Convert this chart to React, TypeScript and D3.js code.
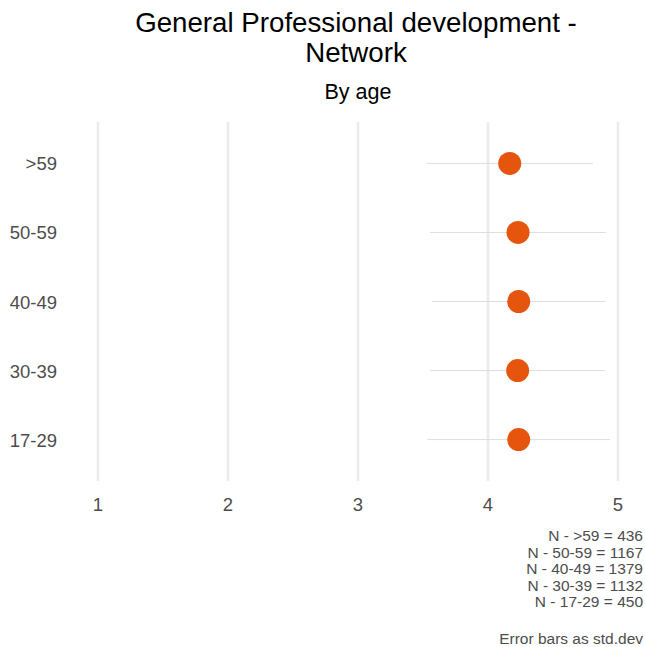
import React from "react";
import * as d3 from "d3";

const categories = [">59", "50-59", "40-49", "30-39", "17-29"];
const means = [4.167, 4.231, 4.236, 4.228, 4.236];
const sds = [0.64, 0.676, 0.669, 0.671, 0.702];
const xTicks = [1, 2, 3, 4, 5];
const nLines = [
  "N - >59 = 436",
  "N - 50-59 = 1167",
  "N - 40-49 = 1379",
  "N - 30-39 = 1132",
  "N - 17-29 = 450",
];
const titleLines = ["General Professional development -", "Network"];
const subtitle = "By age";
const footnote = "Error bars as std.dev";

const W = 645;
const H = 647;
const FONT = "'Liberation Sans', Arial, sans-serif";

export default function App() {
  const x = d3.scaleLinear().domain([1, 5]).range([98, 618]);
  const y = d3.scalePoint<string>().domain(categories).range([122, 481]).padding(0.6);
  const data = categories.map((c, i) => ({ c, m: means[i], s: sds[i] }));
  const cx = 356;
  return (
    <svg width={W} height={H} style={{ position: "absolute", left: 0, top: 0, background: "#fff" }}>
      <rect width={W} height={H} fill="#fff" />
      {titleLines.map((t, i) => (
        <text key={t} x={cx} y={31.5 + i * 30} textAnchor="middle" fontFamily={FONT} fontSize={27.7} fill="#000">
          {t}
        </text>
      ))}
      <text x={cx + 2} y={98.5} textAnchor="middle" fontFamily={FONT} fontSize={21.5} fill="#000">
        {subtitle}
      </text>
      {xTicks.map((t) => (
        <line key={t} x1={x(t)} x2={x(t)} y1={122} y2={481} stroke="#ebebeb" strokeWidth={2.5} />
      ))}
      {data.map((d) => (
        <line
          key={"e" + d.c}
          x1={x(d.m - d.s)}
          x2={x(d.m + d.s)}
          y1={y(d.c)}
          y2={y(d.c)}
          stroke="#dedede"
          strokeWidth={1}
        />
      ))}
      {data.map((d) => (
        <circle key={"p" + d.c} cx={x(d.m)} cy={y(d.c)} r={11.5} fill="#E6550D" />
      ))}
      {categories.map((c) => (
        <text key={"y" + c} x={57} y={(y(c) as number) + 7} textAnchor="end" fontFamily={FONT} fontSize={18.5} fill="#4d4d4d">
          {c}
        </text>
      ))}
      {xTicks.map((t) => (
        <text key={"x" + t} x={x(t)} y={511} textAnchor="middle" fontFamily={FONT} fontSize={18.5} fill="#4d4d4d">
          {t}
        </text>
      ))}
      {nLines.map((t, i) => (
        <text key={t} x={643} y={541 + i * 16.6} textAnchor="end" fontFamily={FONT} fontSize={15.5} fill="#4d4d4d">
          {t}
        </text>
      ))}
      <text x={643} y={643.5} textAnchor="end" fontFamily={FONT} fontSize={15.5} fill="#4d4d4d">
        {footnote}
      </text>
    </svg>
  );
}
